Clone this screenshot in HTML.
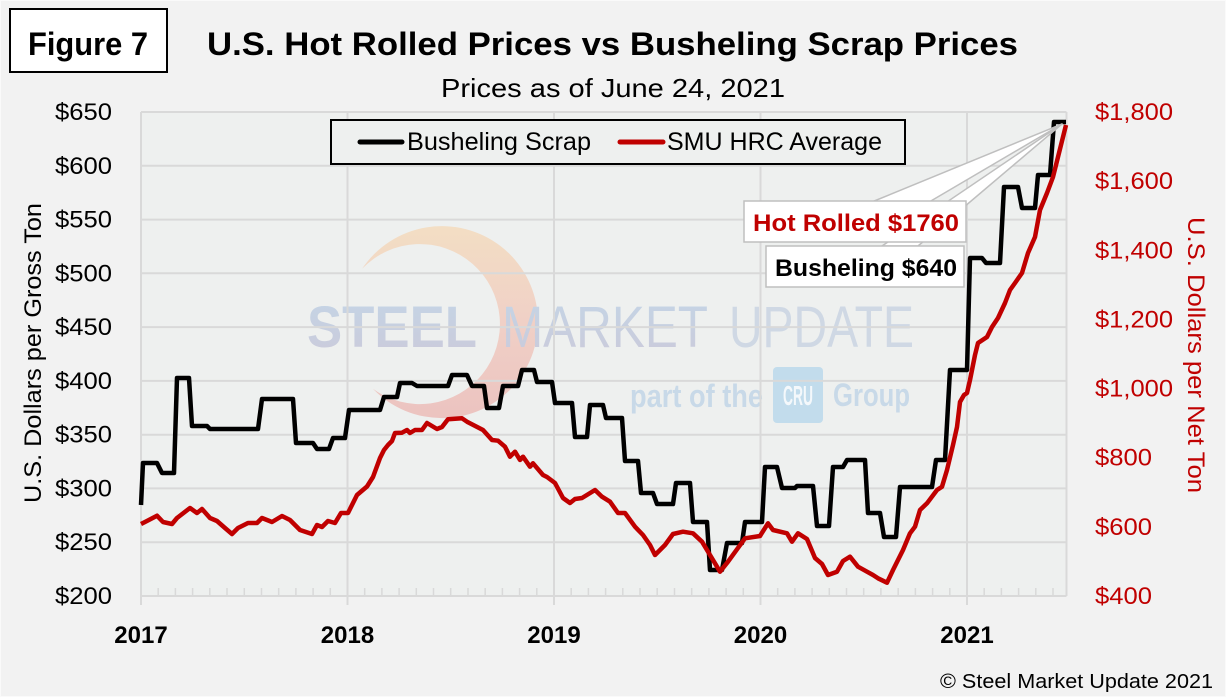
<!DOCTYPE html>
<html><head><meta charset="utf-8"><style>
html,body{margin:0;padding:0;background:#F2F2F2;}
svg{display:block;}
text{font-family:"Liberation Sans",Arial,sans-serif;}
</style></head><body>
<svg width="1226" height="697" viewBox="0 0 1226 697" xmlns="http://www.w3.org/2000/svg">
<defs>
<linearGradient id="cres" x1="0" y1="0" x2="0" y2="1">
<stop offset="0" stop-color="#F3DEC4"/><stop offset="0.5" stop-color="#F0D0C6"/><stop offset="1" stop-color="#ECC3C0"/>
</linearGradient>
<linearGradient id="wm" x1="0" y1="0" x2="0" y2="1">
<stop offset="0" stop-color="#C4D5E6"/><stop offset="1" stop-color="#CBCADA"/>
</linearGradient>
</defs>
<rect x="0" y="0" width="1226" height="697" fill="#F2F2F2"/>
<rect x="0.5" y="0.5" width="1225" height="696" fill="none" stroke="#FAFAFA" stroke-width="1"/>
<!-- plot area -->
<rect x="141" y="112" width="925.5" height="484" fill="#EEF0EF"/>
<!-- watermark -->
<path d="M362.1,268.8 A96,96 0 1 1 372.9,388.8 A80,80 0 1 0 362.1,268.8 Z" fill="url(#cres)"/>
<text x="307" y="347" font-size="58" font-weight="bold" fill="url(#wm)" textLength="170" lengthAdjust="spacingAndGlyphs">STEEL</text>
<text x="502" y="347" font-size="58" fill="url(#wm)" textLength="206" lengthAdjust="spacingAndGlyphs">MARKET</text>
<text x="729" y="347" font-size="58" fill="#CFD8E4" textLength="185" lengthAdjust="spacingAndGlyphs" style="font-weight:300">UPDATE</text>
<text x="630" y="407" font-size="32" font-weight="bold" fill="#C8D9E8" textLength="133" lengthAdjust="spacingAndGlyphs">part of the</text>
<rect x="773" y="367" width="50" height="56" rx="4" fill="#C2DCEC"/>
<text x="783" y="405" font-size="28" font-weight="bold" fill="#F4F8FB" textLength="30" lengthAdjust="spacingAndGlyphs">CRU</text>
<text x="833" y="406" font-size="32" font-weight="bold" fill="#C8D9E8" textLength="77" lengthAdjust="spacingAndGlyphs">Group</text>
<!-- gridlines -->
<g stroke="#D9D9D9" stroke-width="2" fill="none">
<path d="M141,112H1066.5 M141,165.8H1066.5 M141,219.6H1066.5 M141,273.3H1066.5 M141,327.1H1066.5 M141,380.9H1066.5 M141,434.7H1066.5 M141,488.4H1066.5 M141,542.2H1066.5 M141,596H1066.5"/>
<path d="M141,112V605 M347.5,112V605 M554,112V605 M760.5,112V605 M967,112V605 M1066.5,112V596"/>
<path d="M158.2,588V596 M175.4,588V596 M192.6,588V596 M209.8,588V596 M227,588V596 M244.3,588V596 M261.5,588V596 M278.7,588V596 M295.9,588V596 M313.1,588V596 M330.3,588V596 M364.7,588V596 M381.9,588V596 M399.1,588V596 M416.3,588V596 M433.5,588V596 M450.7,588V596 M468,588V596 M485.2,588V596 M502.4,588V596 M519.6,588V596 M536.8,588V596 M571.2,588V596 M588.4,588V596 M605.6,588V596 M622.8,588V596 M640,588V596 M657.2,588V596 M674.5,588V596 M691.7,588V596 M708.9,588V596 M726.1,588V596 M743.3,588V596 M777.7,588V596 M794.9,588V596 M812.1,588V596 M829.3,588V596 M846.5,588V596 M863.7,588V596 M880.9,588V596 M898.2,588V596 M915.4,588V596 M932.6,588V596 M949.8,588V596 M984.2,588V596 M1001.4,588V596 M1018.6,588V596 M1035.8,588V596 M1053,588V596" stroke-width="1.5"/>
</g>
<!-- series -->
<polyline fill="none" stroke="#000" stroke-width="4.5" stroke-linejoin="round" points="141,505 143,463 157,463 162,473 174,473 177,378 189,378 192,426 207,426 210,429 258,429 262,399 293,399 296,443 313,443 317,449 329,449 333,438 345,438 349,410 380,410 384,397 397,397 400,383 412,383 417,386 448,386 452,375 467,375 472,386 484,386 487,408 499,408 503,386 518,386 522,370 534,370 537,382 552,382 555,403 572,403 575,437 587,437 590,405 603,405 606,418 622,418 625,461 638,461 641,493 653,493 657,504 673,504 676,483 690,483 693,522 707,522 710,570 722,570 727,543 742,543 745,522 762,522 765,467 777,467 782,488 795,488 797,486 813,486 817,526 829,526 833,467 843,467 847,460 865,460 868,513 880,513 884,537 896,537 900,487 932,487 936,460 945,460 950,370 967,370 970,258 982,258 986,263 1000,263 1004,187 1018,187 1022,208 1035,208 1038,175 1050,175 1054,122 1066,122"/>
<polyline fill="none" stroke="#C00000" stroke-width="4.5" stroke-linejoin="round" points="141,524 145,522 157,515.7 163,522 172,524 177,518 190,508 197,513 202,509 210,518 217,521 225,528 232,534 238,528 248,523 257,523 262,518 272,522 282,516 290,520 300,530 312,534 317,525 322,527 328,521 335,523 341,513 348,513 357,495 367,486.5 373,477 380,458 384,450 388,445 392,441 395,433 402,432.7 407,430 410,433 415,430 422,430 427,423 437,429 442,427 448,419.3 462,418.3 467,421.7 483,430 492,440 498,440.7 505,446.7 510,456.7 515,451.7 520,460 523,456.7 530,466.7 533,463.3 543,475 547,477 555,483 563,498 570,503 575,499 582,498 595,490 602,496.7 610,501.7 618,513 625,513 635,526.7 643,535 650,545 655,555 665,545 673,534 683,531.7 693,533.3 702,541.7 710,555 720,571.7 728,561.7 737,549.3 745,538.3 760,536 768,523.3 773,530 787,533.3 792,541.7 798,533.3 807,539 815,558 822,564 828,575 837,571.7 843,561 850,556.7 858,566.7 867,571.7 873,575 878,578.3 887,582.7 893,570 903,550 910,533.3 915,526.7 920,510 927,503.3 937,490 942,486.7 947,470 953,445 957,427 960,402 964,395 967,393 970,380 975,355 978,343 987,337 992,327 998,318 1005,303 1010,290 1015,283 1022,273 1028,253 1035,237 1040,210 1047,193 1053,177 1058,157 1066,125"/>
<!-- callouts -->
<polygon points="882,246 918,246 1062,124" fill="#FFFFFF" stroke="#BFBFBF" stroke-width="1.5" stroke-linejoin="round"/>
<polygon points="873,201.5 930,201.5 1062,124" fill="#FFFFFF" stroke="#BFBFBF" stroke-width="1.5" stroke-linejoin="round"/>
<rect x="766" y="246" width="198" height="41" fill="#FFFFFF" stroke="#BFBFBF" stroke-width="1.5"/>
<rect x="744" y="201" width="222" height="41" fill="#FFFFFF" stroke="#BFBFBF" stroke-width="1.5"/>
<text x="753" y="231" font-size="24" font-weight="bold" fill="#C00000" textLength="206" lengthAdjust="spacingAndGlyphs">Hot Rolled $1760</text>
<text x="775" y="276" font-size="24" font-weight="bold" fill="#000" textLength="182" lengthAdjust="spacingAndGlyphs">Busheling $640</text>
<!-- legend -->
<rect x="331" y="120" width="574" height="44" fill="#EEF0EF" stroke="#000" stroke-width="2"/>
<line x1="360" y1="142" x2="402" y2="142" stroke="#000" stroke-width="5" stroke-linecap="round"/>
<text x="407" y="150" font-size="25" fill="#000" textLength="184" lengthAdjust="spacingAndGlyphs">Busheling Scrap</text>
<line x1="620" y1="142" x2="663" y2="142" stroke="#C00000" stroke-width="5" stroke-linecap="round"/>
<text x="667" y="150" font-size="25" fill="#000" textLength="215" lengthAdjust="spacingAndGlyphs">SMU HRC Average</text>
<!-- titles -->
<rect x="10" y="9" width="157" height="63" fill="#FFFFFF" stroke="#000" stroke-width="2"/>
<text x="28" y="55" font-size="32" font-weight="bold" fill="#000" textLength="120" lengthAdjust="spacingAndGlyphs">Figure 7</text>
<text x="207" y="55" font-size="32" font-weight="bold" fill="#000" textLength="811" lengthAdjust="spacingAndGlyphs">U.S. Hot Rolled Prices vs Busheling Scrap Prices</text>
<text x="441" y="97" font-size="26" fill="#000" textLength="344" lengthAdjust="spacingAndGlyphs">Prices as of June 24, 2021</text>
<!-- left axis labels -->
<g font-size="24" fill="#000" text-anchor="end">
<text x="112" y="120" textLength="57" lengthAdjust="spacingAndGlyphs">$650</text>
<text x="112" y="173.8" textLength="57" lengthAdjust="spacingAndGlyphs">$600</text>
<text x="112" y="227.6" textLength="57" lengthAdjust="spacingAndGlyphs">$550</text>
<text x="112" y="281.3" textLength="57" lengthAdjust="spacingAndGlyphs">$500</text>
<text x="112" y="335.1" textLength="57" lengthAdjust="spacingAndGlyphs">$450</text>
<text x="112" y="388.9" textLength="57" lengthAdjust="spacingAndGlyphs">$400</text>
<text x="112" y="442.7" textLength="57" lengthAdjust="spacingAndGlyphs">$350</text>
<text x="112" y="496.4" textLength="57" lengthAdjust="spacingAndGlyphs">$300</text>
<text x="112" y="550.2" textLength="57" lengthAdjust="spacingAndGlyphs">$250</text>
<text x="112" y="604" textLength="57" lengthAdjust="spacingAndGlyphs">$200</text>
</g>
<!-- right axis labels -->
<g font-size="24" fill="#C00000">
<text x="1095" y="120" textLength="78" lengthAdjust="spacingAndGlyphs">$1,800</text>
<text x="1095" y="189.1" textLength="78" lengthAdjust="spacingAndGlyphs">$1,600</text>
<text x="1095" y="258.3" textLength="78" lengthAdjust="spacingAndGlyphs">$1,400</text>
<text x="1095" y="327.4" textLength="78" lengthAdjust="spacingAndGlyphs">$1,200</text>
<text x="1095" y="396.6" textLength="78" lengthAdjust="spacingAndGlyphs">$1,000</text>
<text x="1095" y="465.7" textLength="57" lengthAdjust="spacingAndGlyphs">$800</text>
<text x="1095" y="534.9" textLength="57" lengthAdjust="spacingAndGlyphs">$600</text>
<text x="1095" y="604" textLength="57" lengthAdjust="spacingAndGlyphs">$400</text>
</g>
<!-- x labels -->
<g font-size="24" font-weight="bold" fill="#000" text-anchor="middle">
<text x="141" y="643">2017</text>
<text x="347.5" y="643">2018</text>
<text x="554" y="643">2019</text>
<text x="760.5" y="643">2020</text>
<text x="967" y="643">2021</text>
</g>
<!-- axis titles -->
<text transform="translate(41,353) rotate(-90)" text-anchor="middle" font-size="24" fill="#000" textLength="300" lengthAdjust="spacingAndGlyphs">U.S. Dollars per Gross Ton</text>
<text transform="translate(1188,355) rotate(90)" text-anchor="middle" font-size="24" fill="#C00000" textLength="276" lengthAdjust="spacingAndGlyphs">U.S. Dollars per Net Ton</text>
<text x="940" y="688" font-size="20" fill="#000" textLength="273" lengthAdjust="spacingAndGlyphs">© Steel Market Update 2021</text>
</svg>
</body></html>
